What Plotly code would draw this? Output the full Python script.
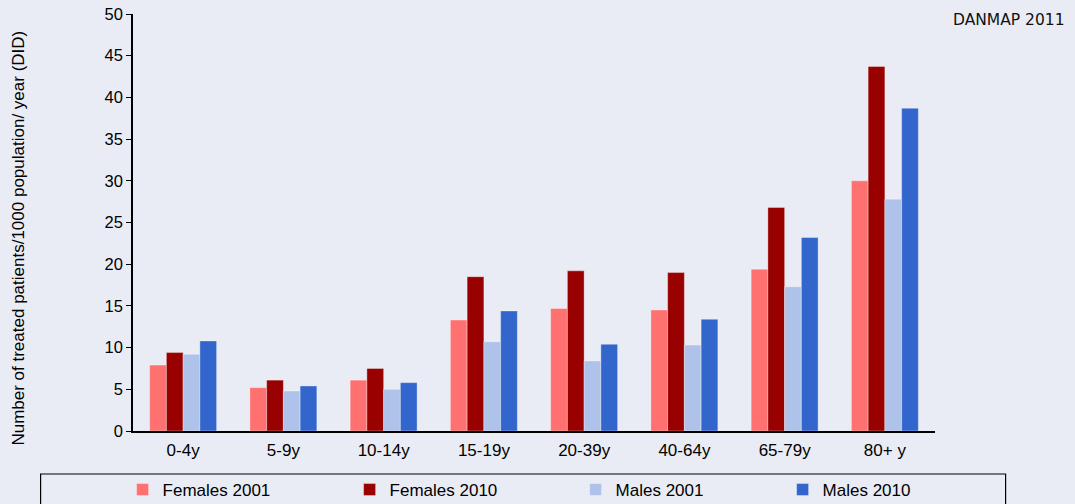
import plotly.graph_objects as go

# Age groups on the x axis
age_groups = ["0-4y", "5-9y", "10-14y", "15-19y", "20-39y", "40-64y", "65-79y", "80+ y"]

# Treated patients per 1000 population per year (DID)
females_2001 = [7.9, 5.2, 6.1, 13.3, 14.7, 14.5, 19.4, 30.0]
females_2010 = [9.4, 6.1, 7.5, 18.5, 19.2, 19.0, 26.8, 43.7]
males_2001 = [9.2, 4.8, 5.0, 10.7, 8.4, 10.3, 17.3, 27.8]
males_2010 = [10.8, 5.4, 5.8, 14.4, 10.4, 13.4, 23.2, 38.7]

series = [
    ("Females 2001", females_2001, "#FF7070", "legend"),
    ("Females 2010", females_2010, "#990000", "legend2"),
    ("Males 2001", males_2001, "#AEC2EA", "legend3"),
    ("Males 2010", males_2010, "#3366CC", "legend4"),
]

W, H = 1075, 504
L, R, T, B = 133.4, 1075 - 935.4, 14, 504 - 431
PW, PH = W - L - R, H - T - B


def px_x(x):
    return (x - L) / PW


def px_y(y):
    return (H - B - y) / PH


BG = "#E9ECF5"
FONT = "Arial, 'Liberation Sans', sans-serif"

fig = go.Figure()
for name, vals, color, leg in series:
    fig.add_trace(go.Bar(
        x=age_groups, y=vals, name=name,
        marker=dict(color=color, line=dict(color="rgba(255,255,255,0.35)", width=1)),
        legend=leg,
    ))

# one legend per series, laid out in a row under the chart
legend_text_x = [159, 386, 612, 819]
legends = {}
for i, tx in enumerate(legend_text_x):
    key = "legend" if i == 0 else f"legend{i + 1}"
    legends[key] = dict(
        x=px_x(tx - 40 + 4), xanchor="left",
        y=px_y(490), yanchor="middle",
        bgcolor="rgba(0,0,0,0)", borderwidth=0,
        font=dict(family=FONT, size=17, color="#000000"),
        orientation="h",
    )

fig.update_layout(
    width=W, height=H,
    margin=dict(l=L, r=R, t=T, b=B, pad=0, autoexpand=False),
    paper_bgcolor=BG, plot_bgcolor=BG,
    barmode="group", bargap=0.332, bargroupgap=0,
    font=dict(family=FONT, size=16.5, color="#000000"),
    showlegend=True,
    **legends,
    xaxis=dict(
        showline=True, linecolor="#000000", linewidth=1.5,
        ticks="", showgrid=False, zeroline=False,
        tickfont=dict(size=17), automargin=False, ticklabelstandoff=3,
    ),
    yaxis=dict(
        range=[0, 50], dtick=5,
        showline=True, linecolor="#000000", linewidth=1.5,
        ticks="outside", ticklen=5, tickcolor="#000000",
        showgrid=False, zeroline=False,
        tickfont=dict(size=16.5), automargin=False,
    ),
    shapes=[
        dict(type="rect", xref="paper", yref="paper",
             x0=px_x(41), x1=px_x(1006), y0=px_y(474), y1=px_y(512),
             line=dict(color="#000000", width=1.2), fillcolor="rgba(0,0,0,0)"),
    ],
    annotations=[
        dict(text="Number of treated patients/1000 population/ year (DID)",
             xref="paper", yref="paper", x=px_x(18), y=px_y(238),
             textangle=-90, showarrow=False, xanchor="center", yanchor="middle",
             font=dict(family=FONT, size=17)),
        dict(text="DANMAP 2011", xref="paper", yref="paper",
             x=px_x(1067), y=px_y(20), xanchor="right", yanchor="middle",
             showarrow=False, font=dict(family="DejaVu Sans", size=15.5, color="#111111")),
    ],
)

fig.write_html("out.html")
